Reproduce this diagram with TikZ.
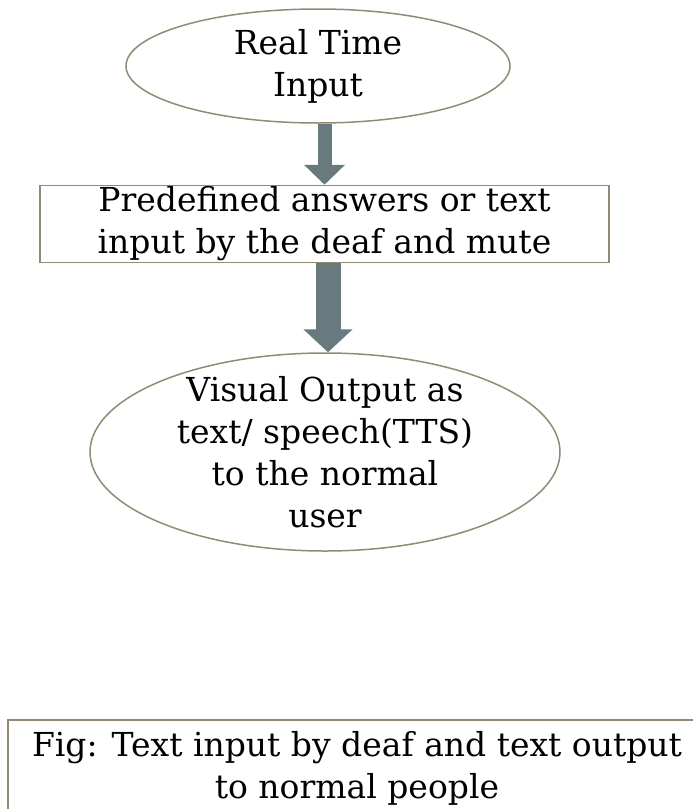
\documentclass[tikz,border=0pt]{standalone}
\usepackage{fontspec}
\setmainfont{DejaVu Serif}
\usetikzlibrary{shapes.geometric,arrows.meta}
\definecolor{outl}{RGB}{148,138,116}
\definecolor{arrfill}{RGB}{104,122,125}
\tikzset{
  txt/.style={font=\fontsize{33pt}{42pt}\selectfont, align=center, text=black},
  ell/.style={ellipse, draw=outl, line width=1.5pt, inner sep=0pt, txt},
  box/.style={rectangle, draw=outl, line width=1.5pt, inner sep=0pt, txt},
}
\begin{document}
\begin{tikzpicture}[x=1pt,y=-1pt]
\useasboundingbox (0,0) rectangle (693,809);
\clip (0,0) rectangle (693,809);
\node[ell, minimum width=384pt, minimum height=114pt] (rti) at (318,66) {Real Time\\Input};
\node[box, minimum width=569pt, minimum height=77pt] (pre) at (324.5,224) {Predefined answers or text\\input by the deaf and mute};
\node[ell, inner ysep=-14pt, minimum width=470pt, minimum height=198pt] (vis) at (325,452) {Visual Output as\\text/ speech(TTS)\\to the normal\\user};
\node[box, minimum width=698pt, minimum height=96pt] (cap) at (357,768) {Fig: Text input by deaf and text output\\to normal people};
\draw[draw=arrfill, line width=14pt, -{Triangle[width=40pt,length=20pt,fill=arrfill]}] (pre.north |- rti.south) -- (pre.north);
\draw[draw=arrfill, line width=25pt, -{Triangle[width=48pt,length=23pt,fill=arrfill]}] ([xshift=3pt]vis.north |- pre.south) -- ([xshift=3pt]vis.north);
\end{tikzpicture}
\end{document}
